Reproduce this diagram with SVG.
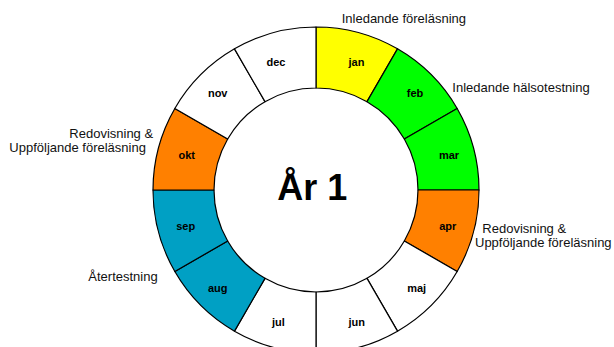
<svg xmlns="http://www.w3.org/2000/svg" width="614" height="347" viewBox="0 0 614 347">
<style>
.seg{stroke:#000;stroke-width:1.2;stroke-linejoin:round}
.white{fill:#fff}
.yellow{fill:#ffff00}
.green{fill:#00ff00}
.orange{fill:#ff8000}
.blue{fill:#00a0c4}
.m{font-family:"Liberation Sans",Arial,sans-serif;font-size:11px;font-weight:bold;fill:#000;text-anchor:middle}
.a{font-family:"Liberation Sans",Arial,sans-serif;font-size:13px;fill:#111}
.title{font-family:"Liberation Sans",Arial,sans-serif;font-size:36px;font-weight:bold;fill:#000;text-anchor:middle}
</style>
<rect width="614" height="347" fill="#fff"/>
<g id="jan"><path class="seg yellow" d="M316,27 A163,163 0 0 1 397.5,48.84 L367,101.67 A102,102 0 0 0 316,88 Z"/><text class="m" x="356.5" y="65.7">jan</text></g>
<g id="feb"><path class="seg green" d="M397.5,48.84 A163,163 0 0 1 457.16,108.5 L404.33,139 A102,102 0 0 0 367,101.67 Z"/><text class="m" x="415" y="96.7">feb</text></g>
<g id="mar"><path class="seg green" d="M457.16,108.5 A163,163 0 0 1 479,190 L418,190 A102,102 0 0 0 404.33,139 Z"/><text class="m" x="449" y="159">mar</text></g>
<g id="apr"><path class="seg orange" d="M479,190 A163,163 0 0 1 457.16,271.5 L404.33,241 A102,102 0 0 0 418,190 Z"/><text class="m" x="447.7" y="230">apr</text></g>
<g id="maj"><path class="seg white" d="M457.16,271.5 A163,163 0 0 1 397.5,331.16 L367,278.33 A102,102 0 0 0 404.33,241 Z"/><text class="m" x="416.7" y="292.3">maj</text></g>
<g id="jun"><path class="seg white" d="M397.5,331.16 A163,163 0 0 1 316,353 L316,292 A102,102 0 0 0 367,278.33 Z"/><text class="m" x="356.7" y="325.7">jun</text></g>
<g id="jul"><path class="seg white" d="M316,353 A163,163 0 0 1 234.5,331.16 L265,278.33 A102,102 0 0 0 316,292 Z"/><text class="m" x="278.3" y="325.7">jul</text></g>
<g id="aug"><path class="seg blue" d="M234.5,331.16 A163,163 0 0 1 174.84,271.5 L227.67,241 A102,102 0 0 0 265,278.33 Z"/><text class="m" x="217.7" y="292.3">aug</text></g>
<g id="sep"><path class="seg blue" d="M174.84,271.5 A163,163 0 0 1 153,190 L214,190 A102,102 0 0 0 227.67,241 Z"/><text class="m" x="185.7" y="230">sep</text></g>
<g id="okt"><path class="seg orange" d="M153,190 A163,163 0 0 1 174.84,108.5 L227.67,139 A102,102 0 0 0 214,190 Z"/><text class="m" x="186.7" y="159">okt</text></g>
<g id="nov"><path class="seg white" d="M174.84,108.5 A163,163 0 0 1 234.5,48.84 L265,101.67 A102,102 0 0 0 227.67,139 Z"/><text class="m" x="217.7" y="96.7">nov</text></g>
<g id="dec"><path class="seg white" d="M234.5,48.84 A163,163 0 0 1 316,27 L316,88 A102,102 0 0 0 265,101.67 Z"/><text class="m" x="276" y="65.7">dec</text></g>
<g id="center"><text class="title" x="312.3" y="200">År 1</text></g>
<g id="connectors"></g>
<g id="annotations">
<text class="a" x="341.7" y="22.5">Inledande föreläsning</text>
<text class="a" x="452.3" y="92.3">Inledande hälsotestning</text>
<text class="a" x="69.3" y="137.5">Redovisning &amp;</text>
<text class="a" x="9.3" y="151.5">Uppföljande föreläsning</text>
<text class="a" x="482.3" y="233">Redovisning &amp;</text>
<text class="a" x="475" y="247">Uppföljande föreläsning</text>
<text class="a" x="88.3" y="281">Återtestning</text>
</g>
</svg>
